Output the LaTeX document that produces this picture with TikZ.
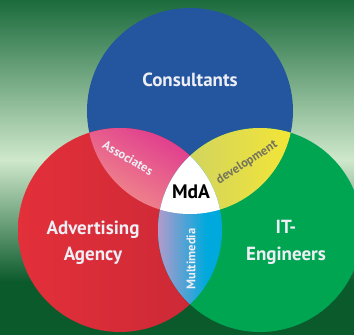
\documentclass[tikz,border=0pt]{standalone}
\usepackage{fontspec}
\setmainfont{PT Sans}
\definecolor{bgdark}{HTML}{1B6B3D}
\definecolor{bglight}{HTML}{CFE8CB}
\definecolor{bgbottom}{HTML}{0B5A2C}
\definecolor{cblue}{HTML}{23569E}
\definecolor{cred}{HTML}{E3303A}
\definecolor{cred2}{HTML}{C92836}
\definecolor{cgreen}{HTML}{00A552}
\definecolor{cmag}{HTML}{E03A8E}
\definecolor{csalmon}{HTML}{F2948A}
\definecolor{cyel}{HTML}{F6E733}
\definecolor{colive}{HTML}{D2D45E}
\definecolor{ccyan}{HTML}{00A9DD}
\definecolor{clav}{HTML}{B99ACB}
\definecolor{ctext}{HTML}{EEEEF5}
\definecolor{cgray}{HTML}{74745E}
\tikzset{
  big/.style={font=\bfseries\fontsize{19}{21}\selectfont, inner sep=0pt, text=ctext, anchor=base},
  small/.style={font=\bfseries\fontsize{12.5}{14}\selectfont, inner sep=0pt},
}
\begin{document}
\begin{tikzpicture}[x=1pt,y=1pt]
\useasboundingbox (0,0) rectangle (354,-335);
% background
\fill[bgbottom] (0,0) rectangle (354,-335);
\shade[top color=bgdark, bottom color=bglight] (0,0) rectangle (354,-160);
\shade[top color=bglight, bottom color=bgbottom] (0,-160) rectangle (354,-282);
% coordinates
\coordinate (cb) at (190,-111);
\coordinate (cr) at (120,-230);
\coordinate (cg) at (260,-230);
% circles
\fill[cblue] (cb) circle[radius=103];
\shade[left color=cred, right color=cred2] (cr) circle[radius=102];
\fill[cgreen] (cg) circle[radius=102];
% blue & red
\begin{scope}
  \clip (cb) circle[radius=103];
  \clip (cr) circle[radius=102];
  \shade[top color=cmag, bottom color=csalmon, shading angle=-30] (85,-128) rectangle (195,-215);
\end{scope}
% blue & green
\begin{scope}
  \clip (cb) circle[radius=103];
  \clip (cg) circle[radius=102];
  \shade[left color=colive, right color=cyel] (190,-128) rectangle (300,-215);
\end{scope}
% red & green
\begin{scope}
  \clip (cr) circle[radius=102];
  \clip (cg) circle[radius=102];
  \fill[ccyan] (150,-140) rectangle (230,-320);
  \shade[left color=clav, right color=ccyan] (156,-140) rectangle (206,-320);
\end{scope}
% centre
\begin{scope}
  \clip (cb) circle[radius=103];
  \clip (cr) circle[radius=102];
  \fill[white] (cg) circle[radius=102];
\end{scope}
% labels
\node[big] (consultants) at (190,-86) {Consultants};
\node[big] (advertising) at (93,-234) {Advertising};
\node[big] (agency) at (93,-260) {Agency};
\node[big] (it) at (286,-233) {IT-};
\node[big] (engineers) at (286,-260) {Engineers};
\node[font=\bfseries\fontsize{19.5}{21}\selectfont, inner sep=0pt, anchor=base, text=black] (mda) at (191,-198) {MdA};
\node[small, text=ctext, rotate=-30] (associates) at (128,-158) {Associates};
\node[small, text=ctext, rotate=90] (multimedia) at (191,-259) {Multimedia};
\node[small, text=cgray, rotate=33] (development) at (247,-163) {development};
\end{tikzpicture}
\end{document}
